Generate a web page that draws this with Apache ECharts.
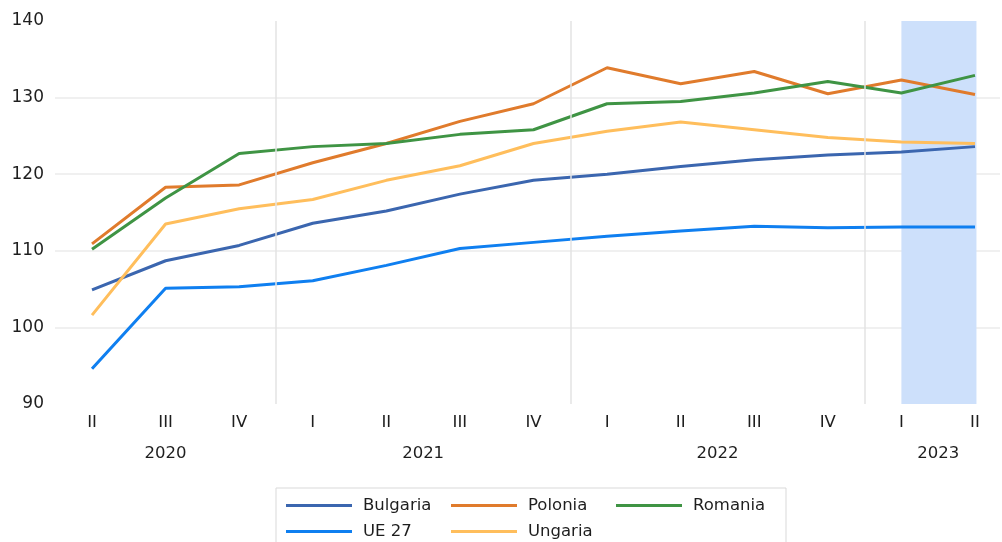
<!DOCTYPE html>
<html>
<head>
<meta charset="utf-8">
<script src="https://cdn.jsdelivr.net/npm/echarts@6/dist/echarts.min.js"></script>
<style>
  body { margin: 0; background: #fff; }
  #chart { width: 1002px; height: 542px; }
</style>
</head>
<body>
<div id="chart"></div>
<script>
// trimestre (index 0..12) si anii
const quarters = ['II', 'III', 'IV', 'I', 'II', 'III', 'IV', 'I', 'II', 'III', 'IV', 'I', 'II'];
const years = ['2020', '2021', '2022', '2023'];
const yearCenters = [1, 4.5, 8.5, 11.5];
const yearBreaks = [2.5, 6.5, 10.5];

const bulgaria = [104.9, 108.7, 110.7, 113.6, 115.2, 117.4, 119.2, 120.0, 121.0, 121.9, 122.5, 122.9, 123.6];
const polonia  = [110.9, 118.3, 118.6, 121.5, 124.0, 126.9, 129.2, 133.9, 131.8, 133.4, 130.5, 132.3, 130.4];
const romania  = [110.2, 116.9, 122.7, 123.6, 124.0, 125.2, 125.8, 129.2, 129.5, 130.6, 132.1, 130.6, 132.9];
const ue27     = [94.6, 105.1, 105.3, 106.1, 108.1, 110.3, 111.1, 111.9, 112.6, 113.2, 113.0, 113.1, 113.1];
const ungaria  = [101.6, 113.5, 115.5, 116.7, 119.2, 121.1, 124.0, 125.6, 126.8, 125.8, 124.8, 124.2, 124.0];

const font = "'DejaVu Sans', 'Noto Sans', sans-serif";
const textColor = '#1e1e1e';

function pairs(arr) {
  return arr.map((v, i) => [i, v]);
}

function lineSeries(name, data, color) {
  return {
    name: name,
    type: 'line',
    data: pairs(data),
    symbol: 'none',
    z: 3,
    lineStyle: { color: color, width: 3 },
    itemStyle: { color: color }
  };
}

let chart = echarts.init(document.getElementById('chart'));

let option = {
  backgroundColor: '#fff',
  animation: false,
  textStyle: { fontFamily: font },
  grid: { left: 55, right: 2, top: 21, bottom: 138 },
  legend: {
    data: ['Bulgaria', 'Polonia', 'Romania', 'UE 27', 'Ungaria'],
    left: 276,
    top: 488,
    width: 490,
    orient: 'horizontal',
    icon: 'rect',
    itemWidth: 66,
    itemHeight: 3,
    itemGap: 9,
    padding: [9, 14, 10, 10],
    borderColor: '#d9d9d9',
    borderWidth: 1,
    textStyle: {
      color: textColor,
      fontSize: 16.5,
      fontFamily: font,
      width: 79,
      lineHeight: 14,
      padding: [0, 0, 0, 6]
    }
  },
  xAxis: [
    {
      type: 'value',
      min: -0.503,
      max: 12.34,
      axisLine: { show: false },
      axisTick: { show: false },
      splitLine: { show: false },
      axisLabel: {
        customValues: quarters.map((q, i) => i),
        formatter: v => quarters[Math.round(v)],
        color: textColor,
        fontSize: 16.5,
        margin: 10
      }
    },
    {
      type: 'value',
      min: -0.503,
      max: 12.34,
      position: 'bottom',
      offset: 31,
      axisLine: { show: false },
      axisTick: { show: false },
      splitLine: { show: false },
      axisLabel: {
        customValues: yearCenters,
        formatter: v => years[yearCenters.indexOf(v)],
        color: textColor,
        fontSize: 16.5,
        margin: 10
      }
    }
  ],
  yAxis: {
    type: 'value',
    min: 90,
    max: 140,
    interval: 10,
    axisLine: { show: false },
    axisTick: { show: false },
    axisLabel: { color: textColor, fontSize: 17, margin: 11 },
    splitLine: {
      show: true,
      lineStyle: {
        color: ['transparent', '#ebebeb', '#ebebeb', '#ebebeb', '#ebebeb', 'transparent'],
        width: 1.5
      }
    }
  },
  series: [
    {
      name: 'fundal',
      type: 'line',
      data: [],
      z: 1,
      silent: true,
      markArea: {
        silent: true,
        itemStyle: { color: '#cde0fb' },
        data: [[{ xAxis: 11 }, { xAxis: 12.02 }]]
      },
      markLine: {
        silent: true,
        symbol: ['none', 'none'],
        label: { show: false },
        lineStyle: { color: '#e3e3e3', width: 1.5, type: 'solid' },
        data: yearBreaks.map(b => ({ xAxis: b }))
      }
    },
    lineSeries('Bulgaria', bulgaria, '#3b66af'),
    lineSeries('Polonia', polonia, '#e07b2c'),
    lineSeries('Romania', romania, '#3f9444'),
    lineSeries('UE 27', ue27, '#0f7ff0'),
    lineSeries('Ungaria', ungaria, '#ffbe5c')
  ]
};

chart.setOption(option);
</script>
</body>
</html>
